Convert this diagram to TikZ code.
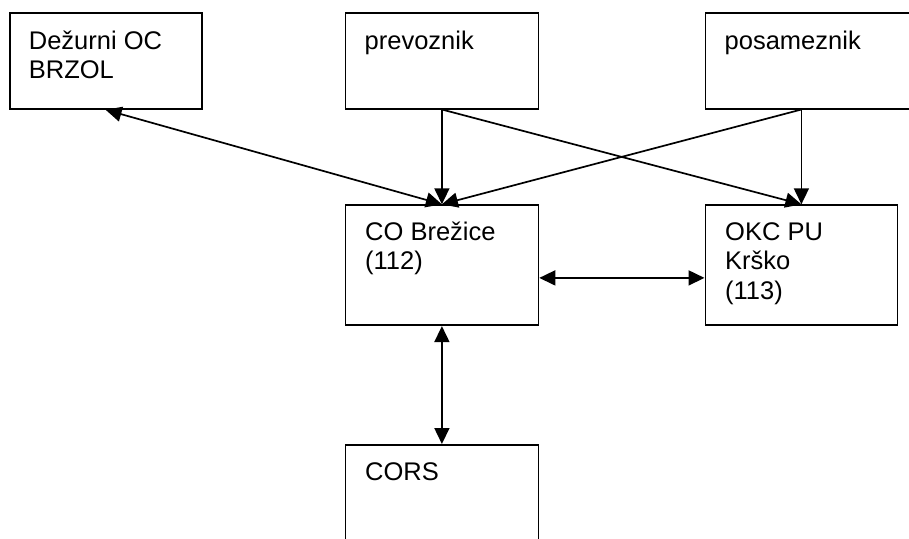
\documentclass[tikz,border=0pt]{standalone}
\usepackage{fontspec}
\setmainfont{Liberation Sans}
\usetikzlibrary{arrows.meta,positioning}
\begin{document}
\begin{tikzpicture}[x=1pt,y=-1pt,
  box/.style={draw=black,line width=1.8pt,rectangle,inner sep=0pt,anchor=north west},
  lbl/.style={anchor=base west,inner sep=0pt,align=left,font=\fontsize{25.5}{29.5}\selectfont},
  conn/.style={line width=1.7pt,-{Triangle[length=16pt,width=15pt]}},
  bconn/.style={line width=1.7pt,{Triangle[length=16pt,width=15pt]}-{Triangle[length=16pt,width=15pt]}}]
\clip (0,0) rectangle (909,538);
\fill[white] (0,0) rectangle (909,538);
\node[box,minimum width=192pt,minimum height=95.7pt] (dez) at (8.7,12.3) {};
\node[box,minimum width=193pt,minimum height=95.4pt] (prev) at (344.5,12.3) {};
\node[box,minimum width=220pt,minimum height=95.4pt] (pos) at (704.5,12.3) {};
\node[box,minimum width=193pt,minimum height=120pt] (co) at (344.5,204.3) {};
\node[box,minimum width=192pt,minimum height=120pt] (okc) at (704.5,204.3) {};
\node[box,minimum width=193pt,minimum height=150pt] (cors) at (344.5,444) {};
\node[lbl] (tdez) at ([xshift=20pt,yshift=-66.5pt]dez.north west) {Dežurni OC\\BRZOL};
\node[lbl] (tprev) at ([xshift=20pt,yshift=-37.5pt]prev.north west) {prevoznik};
\node[lbl] (tpos) at ([xshift=20pt,yshift=-37.5pt]pos.north west) {posameznik};
\node[lbl] (tco) at ([xshift=20.5pt,yshift=-65.5pt]co.north west) {CO Brežice\\(112)};
\node[lbl] (tokc) at ([xshift=20.5pt,yshift=-95pt]okc.north west) {OKC PU\\Krško\\(113)};
\node[lbl] (tcors) at ([xshift=20.5pt,yshift=-36pt]cors.north west) {CORS};
\coordinate (posout) at (okc.north |- pos.south);
\draw[bconn] (dez.south) -- (co.north);
\draw[conn] (prev.south) -- (co.north);
\draw[conn] (posout) -- (co.north);
\draw[conn] (prev.south) -- (okc.north);
\draw[conn] (posout) -- (okc.north);
\draw[bconn] ([yshift=-12.7pt]co.east) -- ([yshift=-12.7pt]okc.west);
\draw[bconn] (co.south) -- (cors.north);
\end{tikzpicture}
\end{document}
